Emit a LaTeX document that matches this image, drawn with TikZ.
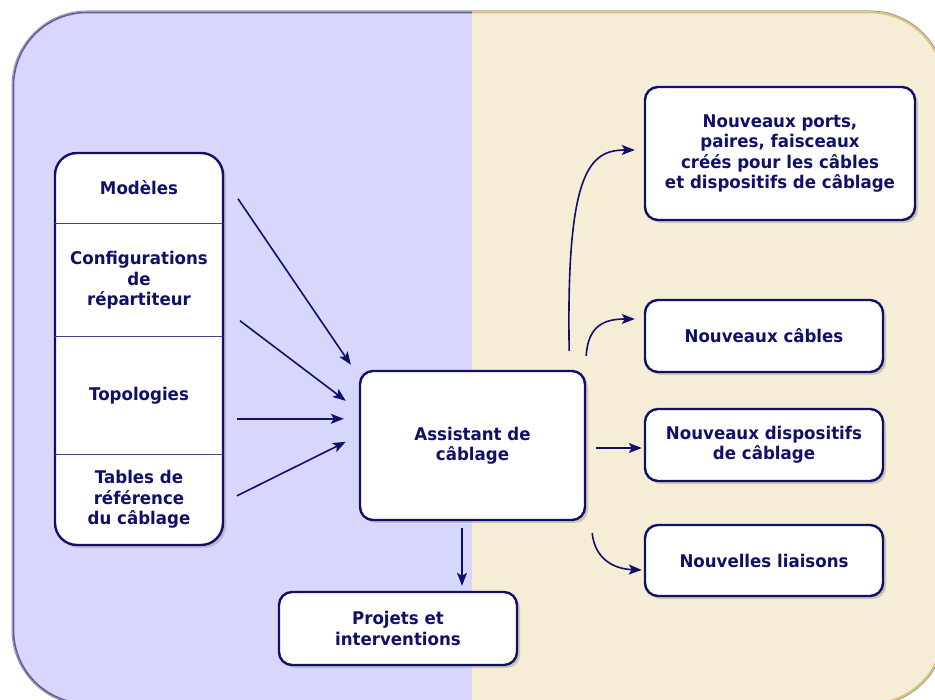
\documentclass[tikz,border=0pt]{standalone}
\usepackage{fontspec}
\setmainfont{DejaVu Sans}[FakeStretch=0.95]
\usetikzlibrary{positioning,shadows,arrows.meta,calc}
\definecolor{navy}{HTML}{10106B}
\definecolor{lav}{HTML}{D7D7FB}
\definecolor{beige}{HTML}{F6EDD6}
\definecolor{rimblue}{HTML}{5E5EA8}
\definecolor{rimgold}{HTML}{E2C272}
\begin{document}
\begin{tikzpicture}[x=1pt,y=-1pt,
    box/.style={draw=navy,line width=2.4pt,fill=white,rounded corners=13,
      drop shadow={opacity=0.35,shadow xshift=3pt,shadow yshift=-3pt},
      text=navy,font=\bfseries\fontsize{17.5}{20.3}\selectfont,align=center,inner sep=0pt},
    cell/.style={minimum width=168,inner sep=0pt,outer sep=0pt,text=navy,
      font=\bfseries\fontsize{17.5}{20.3}\selectfont,align=center},
    arr/.style={draw=navy,line width=1.6pt,-{Stealth[length=13pt,width=10pt,inset=3pt]}}]
  \useasboundingbox (0,0) rectangle (935,700);
  \begin{scope}
    \clip[rounded corners=75] (12,11) rectangle (945,705);
    \fill[lav] (0,0) rectangle (472,720);
    \fill[beige] (472,0) rectangle (960,720);
  \end{scope}
  \draw[black!40,line width=1pt,rounded corners=75] (12,11) rectangle (945,705);
  \begin{scope}
    \clip (0,0) rectangle (472,720);
    \draw[rimblue,line width=1.6pt,rounded corners=73.5] (13.5,12.5) rectangle (943.5,703.5);
  \end{scope}
  \begin{scope}
    \clip (472,0) rectangle (960,720);
    \draw[rimgold,line width=1.6pt,rounded corners=73.5] (13.5,12.5) rectangle (943.5,703.5);
  \end{scope}

  \node[box,rounded corners=22,minimum width=168,minimum height=392] (stack) at (139,349) {};
  \node[cell,minimum height=72,anchor=north] (models) at (stack.north) {Modèles};
  \node[cell,minimum height=113,below=0pt of models] (config) {Configurations\\de\\répartiteur};
  \node[cell,minimum height=118,below=0pt of config] (topo) {Topologies};
  \node[cell,minimum height=89,below=0pt of topo] (tables) {Tables de\\référence\\du câblage};
  \foreach \c in {models,config,topo}
    \draw[navy!80,line width=1pt] (\c.south west) -- (\c.south east);

  \node[box,minimum width=225,minimum height=149] (assist) at (472.5,445.5) {Assistant de\\câblage};
  \node[box,minimum width=238,minimum height=73] (projets) at (398,628.5) {Projets et\\interventions};
  \node[box,minimum width=270,minimum height=133] (ports) at (780,153.5)
    {Nouveaux ports,\\paires, faisceaux\\créés pour les câbles\\et dispositifs de câblage};
  \node[box,minimum width=238,minimum height=72] (cables) at (764,336) {Nouveaux câbles};
  \node[box,minimum width=238,minimum height=72] (disp) at (764,445) {Nouveaux dispositifs\\de câblage};
  \node[box,minimum width=238,minimum height=71] (liaisons) at (764,560.5) {Nouvelles liaisons};

  \coordinate (m1) at ($(models.east)+(15,11)$);
  \coordinate (m2) at ($(config.east)+(17,40.5)$);
  \coordinate (m3) at ($(topo.east)+(14,23)$);
  \coordinate (m4) at ($(tables.east)+(14,-3.5)$);
  \coordinate (a1) at ($(assist.north west)+(-8,-5)$);
  \coordinate (a2) at ($(assist.north west)+(-13,31)$);
  \coordinate (a3) at ($(assist.north west)+(-15,49)$);
  \coordinate (a4) at ($(assist.north west)+(-13,72)$);
  \coordinate (a5) at ($(assist.south)+(-10.5,7)$);
  \coordinate (a6) at ($(assist.east)+(10,2.5)$);
  \coordinate (a7) at ($(assist.north east)+(-17,-19)$);
  \coordinate (a8) at ($(assist.north east)+(0,-14)$);
  \coordinate (a9) at ($(assist.south east)+(6,12)$);
  \coordinate (p1) at ($(ports.west)+(-9,-3.5)$);
  \coordinate (p2) at ($(cables.west)+(-9,-17)$);
  \coordinate (p6) at ($(disp.west)+(-2,3)$);
  \coordinate (p9) at ($(liaisons.west)+(-2,9.5)$);

  \draw[arr] (m1) -- (a1);
  \draw[arr] (m2) -- (a2);
  \draw[arr] (m3) -- (a3);
  \draw[arr] (m4) -- (a4);
  \draw[arr] (a5) -- ($(projets.north)+(64,-5)$);
  \draw[arr] (a6) -- (p6);
  \draw[arr] (a7) .. controls (566,170) and (590,150) .. (p1);
  \draw[arr] (a8) .. controls (588,325) and (605,319) .. (p2);
  \draw[arr] (a9) .. controls (595,560) and (615,569) .. (p9);
\end{tikzpicture}
\end{document}
